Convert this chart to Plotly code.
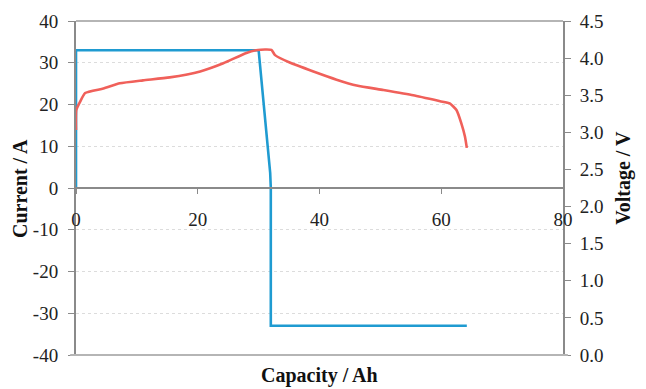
import plotly.graph_objects as go

# Current trace (left axis)
cap_i = [0, 0, 30.0, 31.0, 31.9, 32.0, 32.0, 64.2]
current = [0, 33, 33, 18, 3.6, 0, -33, -33]

# Voltage trace (right axis)
cap_v = [0, 0.05, 0.66, 1.5, 4.5, 7.2, 11.0, 15.4, 20.4, 24.2, 28.0, 29.9, 32.1, 32.7,
         35.1, 39.0, 42.8, 46.1, 50.5, 55.4, 59.8, 61.4, 62.5, 63.3, 63.9, 64.2]
voltage = [3.03, 3.30, 3.41, 3.53, 3.59, 3.66, 3.70, 3.74, 3.82, 3.93, 4.07, 4.11, 4.11, 4.04,
           3.94, 3.82, 3.71, 3.63, 3.57, 3.50, 3.42, 3.39, 3.30, 3.12, 2.94, 2.79]

x_ticks = [0, 20, 40, 60, 80]
i_ticks = [-40, -30, -20, -10, 0, 10, 20, 30, 40]
i_labels = ["-40", "-30", "-20", "-10", "0", "10", "20", "30", "40"]
v_ticks = [0.0, 0.5, 1.0, 1.5, 2.0, 2.5, 3.0, 3.5, 4.0, 4.5]
v_labels = ["0.0", "0.5", "1.0", "1.5", "2.0", "2.5", "3.0", "3.5", "4.0", "4.5"]

BLUE = "#1f9bd1"
RED = "#f0605a"
AXIS = "#8a8a8a"
FONT = "Liberation Serif"
TXT = "#222222"
TICK_SIZE = 19
TITLE_SIZE = 20

fig = go.Figure()
fig.add_trace(go.Scatter(x=cap_v, y=voltage, yaxis="y2", mode="lines",
                         line=dict(color=RED, width=2.6, shape="spline", smoothing=0.5),
                         showlegend=False))
fig.add_trace(go.Scatter(x=cap_i, y=current, mode="lines",
                         line=dict(color=BLUE, width=2.6), showlegend=False))

fig.update_layout(
    width=646, height=389,
    margin=dict(l=76, r=83, t=21, b=34, autoexpand=False),
    paper_bgcolor="white", plot_bgcolor="white",
    font=dict(family=FONT, size=TICK_SIZE, color=TXT),
    xaxis=dict(range=[0, 80], tickvals=x_ticks, anchor="free", position=0.5,
               showline=True, linecolor=AXIS, linewidth=2,
               ticks="outside", ticklen=5, tickcolor=AXIS, tickwidth=1,
               showgrid=False, zeroline=False, ticklabelstandoff=9, automargin=False,
               tickfont=dict(family=FONT, size=TICK_SIZE, color=TXT)),
    yaxis=dict(range=[-40, 40], tickvals=i_ticks, ticktext=i_labels, showline=True,
               linecolor=AXIS, linewidth=2, ticks="outside", ticklen=6, tickcolor=AXIS,
               showgrid=True, gridcolor="#dcdcdc", griddash="dot", gridwidth=1,
               zeroline=False, ticklabelstandoff=6, automargin=False,
               tickfont=dict(family=FONT, size=TICK_SIZE, color=TXT)),
    yaxis2=dict(range=[0, 4.5], tickvals=v_ticks, ticktext=v_labels,
                overlaying="y", side="right", showline=True, linecolor=AXIS,
                linewidth=2, ticks="outside", ticklen=6, tickcolor=AXIS,
                showgrid=False, zeroline=False, ticklabelstandoff=5, automargin=False,
                tickfont=dict(family=FONT, size=TICK_SIZE, color=TXT)),
    shapes=[
        dict(type="line", xref="paper", yref="paper", x0=0, x1=1, y0=1, y1=1,
             line=dict(color="#b5b5b5", width=2)),
        dict(type="line", xref="paper", yref="paper", x0=-0.012, x1=1.01, y0=0, y1=0,
             line=dict(color="#b5b5b5", width=2)),
    ],
    annotations=[
        dict(text="<b>Capacity / Ah</b>", xref="paper", yref="paper", x=0.5, y=-0.1018,
             showarrow=False, font=dict(family=FONT, size=TITLE_SIZE, color="#111111"),
             xanchor="center", yanchor="bottom"),
        dict(text="<b>Current / A</b>", xref="paper", yref="paper", x=-0.115, y=0.5,
             showarrow=False, textangle=-90, font=dict(family=FONT, size=TITLE_SIZE, color="#111111"),
             xanchor="center", yanchor="middle"),
        dict(text="<b>Voltage / V</b>", xref="paper", yref="paper", x=1.125, y=0.53,
             showarrow=False, textangle=-90, font=dict(family=FONT, size=TITLE_SIZE, color="#111111"),
             xanchor="center", yanchor="middle"),
    ],
)

fig.write_html("out.html", config={"displayModeBar": False},
               post_script="document.body.style.margin='0';document.body.style.overflow='hidden';")
